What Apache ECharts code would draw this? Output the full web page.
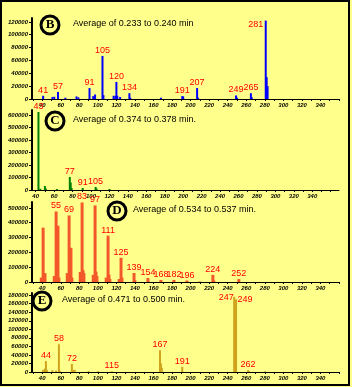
<!DOCTYPE html>
<html>
<head>
<meta charset="utf-8">
<title>Average spectra B-E</title>
<script src="https://cdn.jsdelivr.net/npm/echarts@6/dist/echarts.min.js"></script>
<style>
    html, body { margin: 0; padding: 0; background: #ffffff; }
    #main { width: 352px; height: 387px; }
</style>
</head>
<body>
<div id="main"></div>
<script>
/** data start */
// panel B : average of 0.233 to 0.240 min
var bMz = [41, 51, 53, 57, 65, 77, 79, 91, 95, 97, 105, 106, 117, 119, 120, 121, 124, 134, 135, 168, 191, 192, 207, 208, 249, 250, 265, 266, 281, 282, 283];
var bInt = [5000, 3000, 3500, 11000, 2000, 4000, 2500, 17000, 4500, 7000, 67000, 6000, 5000, 5000, 26500, 5000, 3000, 9000, 2000, 2000, 4500, 4000, 17000, 2000, 5500, 2000, 9000, 2500, 122000, 34000, 20000];
var bLabels = [41, 57, 91, 105, 120, 134, 191, 207, 249, 265, 281];

// panel C : average of 0.374 to 0.378 min
var cMz = [43, 45, 50, 51, 63, 77, 78, 79, 91, 105, 106, 120];
var cInt = [624000, 10000, 32000, 12000, 8000, 104000, 60000, 15000, 16000, 24000, 12000, 8000];
var cLabels = [43, 77, 91, 105];

// panel D : average of 0.534 to 0.537 min
var dMz = [39, 41, 42, 43, 53, 55, 56, 57, 58, 67, 69, 70, 71, 72, 81, 82, 83, 84, 85, 95, 97, 98, 99, 109, 111, 112, 113, 123, 125, 126, 139, 140, 154, 168, 182, 196, 210, 224, 225, 252];
var dInt = [30000, 367000, 40000, 60000, 40000, 476000, 80000, 380000, 30000, 60000, 449000, 150000, 231000, 30000, 68000, 40000, 537000, 80000, 60000, 48000, 517000, 70000, 40000, 30000, 313000, 50000, 20000, 20000, 163000, 30000, 61000, 12000, 27000, 14000, 14000, 10000, 3000, 48000, 10000, 20000];
var dLabels = [55, 69, 83, 97, 111, 125, 139, 154, 168, 182, 196, 224, 252];

// panel E : average of 0.471 to 0.500 min
var eMz = [41, 43, 44, 45, 51, 55, 58, 59, 72, 73, 75, 90, 100, 115, 167, 168, 169, 191, 247, 248, 249, 262, 263, 280];
var eInt = [5000, 8000, 25500, 5000, 4000, 3000, 65000, 3000, 19000, 5000, 5000, 2000, 2000, 2000, 51000, 20000, 10000, 12000, 176000, 120000, 170000, 4000, 2000, 1500];
var eLabels = [44, 58, 72, 115, 167, 191, 247, 249, 262];

// axis ticks
var xTickLabels = [40, 60, 80, 100, 120, 140, 160, 180, 200, 220, 240, 260, 280, 300, 320, 340];
var xMinorTicks = [30, 40, 50, 60, 70, 80, 90, 100, 110, 120, 130, 140, 150, 160, 170, 180, 190, 200, 210, 220, 230, 240, 250, 260, 270, 280, 290, 300, 310, 320, 330, 340, 350, 360];
var bYTicks = [0, 20000, 40000, 60000, 80000, 100000, 120000];
var cYTicks = [0, 100000, 200000, 300000, 400000, 500000, 600000];
var dYTicks = [0, 100000, 200000, 300000, 400000, 500000];
var eYTicks = [0, 20000, 40000, 60000, 80000, 100000, 120000, 140000, 160000, 180000];
/** data end */

(function () {

    var chart = {};

    /**
     * 生成图表
     */
    chart.initChart = function (areaid, options) {
        var myChart = echarts.init(document.getElementById(areaid), null, { renderer: 'canvas' });
        myChart.setOption(options);
        return myChart;
    };

    // shallow copy helper (no jQuery on the page)
    function extend(a, b) {
        for (var k in b) {
            if (Object.prototype.hasOwnProperty.call(b, k)) { a[k] = b[k]; }
        }
        return a;
    }

    var LEFT = 32, WIDTH = 307;
    var grids = [
        { left: LEFT, top: 18, width: WIDTH, height: 81 },
        { left: LEFT, top: 110, width: WIDTH, height: 80 },
        { left: LEFT, top: 202, width: WIDTH, height: 80 },
        { left: LEFT, top: 293, width: WIDTH, height: 79 }
    ];

    // label offsets for crowded peaks
    var labelOffsets = {
        'B281': [-10, 9],
        'E247': [-8, 6],
        'E249': [9, 6]
    };

    function buildData(panel, mz, inten, labels) {
        var out = [];
        for (var i = 0; i < mz.length; i++) {
            var item = { value: [mz[i], inten[i]] };
            if (labels.indexOf(mz[i]) >= 0) {
                item.label = { show: true };
                var off = labelOffsets[panel + mz[i]];
                if (off) {
                    item.label.offset = off;
                }
            }
            out.push(item);
        }
        return out;
    }

    var tickFont = {
        fontSize: 6, fontStyle: 'italic', fontWeight: 'bold',
        fontFamily: 'Liberation Sans Narrow, Liberation Sans', color: '#000'
    };

    function plain(v) { return String(v); }

    function xAxis(idx, min, max) {
        return {
            type: 'value', gridIndex: idx, min: min, max: max,
            axisLine: { lineStyle: { color: '#000', width: 1 } },
            axisTick: { show: true, length: 2, customValues: xMinorTicks, lineStyle: { color: '#000' } },
            axisLabel: extend({ customValues: xTickLabels, margin: 3, formatter: plain }, tickFont),
            splitLine: { show: false }
        };
    }

    function yAxis(idx, max, ticks) {
        return {
            type: 'value', gridIndex: idx, min: 0, max: max,
            axisLine: { show: true, lineStyle: { color: '#000', width: 2 } },
            axisTick: { show: true, length: 3, customValues: ticks, lineStyle: { color: '#000', width: 1 } },
            axisLabel: extend({ customValues: ticks, margin: 4, formatter: plain }, tickFont),
            splitLine: { show: false }
        };
    }

    function barSeries(idx, data, color, width) {
        return {
            type: 'bar', xAxisIndex: idx, yAxisIndex: idx, data: data, barWidth: width,
            itemStyle: { color: color }, animation: false, clip: false,
            label: {
                show: false, position: 'top', distance: 1, color: '#ff0000', fontSize: 9,
                fontFamily: 'Liberation Sans', formatter: function (p) { return p.value[0]; }
            }
        };
    }

    function badge(cx, cy, letter, titleX, title) {
        return [
            { type: 'circle', shape: { cx: cx, cy: cy, r: 9 }, style: { fill: 'none', stroke: '#000', lineWidth: 3 } },
            { type: 'text', x: cx, y: cy, style: { text: letter, fill: '#000', font: 'bold 13px Liberation Serif', align: 'center', verticalAlign: 'middle' } },
            { type: 'text', x: titleX, y: cy - 1, style: { text: title, fill: '#000', font: '9px Liberation Sans', align: 'left', verticalAlign: 'middle' } }
        ];
    }

    var graphics = [
        { type: 'rect', shape: { x: 1, y: 1, width: 348, height: 384 }, style: { fill: 'none', stroke: '#000', lineWidth: 2 }, z: 100 }
    ]
        .concat(badge(50, 25, 'B', 73, 'Average of 0.233 to 0.240 min'))
        .concat(badge(55, 121, 'C', 73, 'Average of 0.374 to 0.378 min.'))
        .concat(badge(117, 211, 'D', 133, 'Average of 0.534 to 0.537 min.'))
        .concat(badge(42, 301, 'E', 62, 'Average of 0.471 to 0.500 min.'));

    var option = {
        backgroundColor: '#ffff8c',
        animation: false,
        grid: grids,
        xAxis: [xAxis(0, 29, 360), xAxis(1, 36, 369), xAxis(2, 29, 360), xAxis(3, 29, 360)],
        yAxis: [yAxis(0, 126000, bYTicks), yAxis(1, 640000, cYTicks), yAxis(2, 540000, dYTicks), yAxis(3, 185000, eYTicks)],
        series: [
            barSeries(0, buildData('B', bMz, bInt, bLabels), '#0000ff', 2),
            barSeries(1, buildData('C', cMz, cInt, cLabels), '#008000', 2),
            barSeries(2, buildData('D', dMz, dInt, dLabels), '#f2582a', 3),
            barSeries(3, buildData('E', eMz, eInt, eLabels), '#cfa31c', 2)
        ],
        graphic: graphics
    };

    chart.initChart('main', option);
})();
</script>
</body>
</html>
